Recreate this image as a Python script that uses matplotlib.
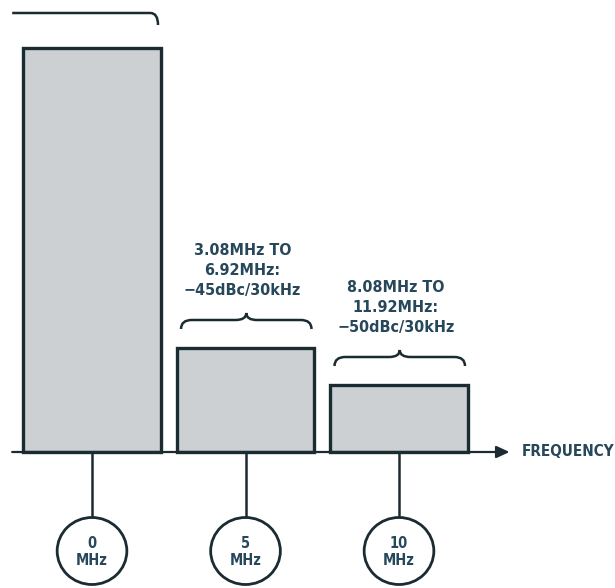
import matplotlib
matplotlib.use("Agg")
import matplotlib.pyplot as plt
from matplotlib.patches import Rectangle, Ellipse, PathPatch
from matplotlib.path import Path

# channel centres (MHz), relative level of each block, labels
centers = [0, 5, 10]
levels = [404, 104, 67]
bar_width = 4.47
tick_labels = ["0\nMHz", "5\nMHz", "10\nMHz"]
notes = [None,
         "3.08MHz TO\n6.92MHz:\n\u221245dBc/30kHz",
         "8.08MHz TO\n11.92MHz:\n\u221250dBc/30kHz"]

edge = "#1b2b32"
fill = "#cdd0d3"
txt = "#27475a"
fam = ["DejaVu Sans"]

fig = plt.figure(figsize=(6.15, 5.88), dpi=100)
ax = fig.add_axes([0, 0, 1, 1])
ax.set_xlim(-2.997, 17.036)
ax.set_ylim(-136, 452)
ax.axis("off")


def brace(x0, x1, y, drop, rise, r):
    xc = (x0 + x1) / 2
    verts = [(x0, y - drop), (x0, y), (x0 + r, y),
             (xc - r, y), (xc, y), (xc, y + rise),
             (xc, y), (xc + r, y),
             (x1 - r, y), (x1, y), (x1, y - drop)]
    codes = [Path.MOVETO, Path.CURVE3, Path.CURVE3,
             Path.LINETO, Path.CURVE3, Path.CURVE3,
             Path.CURVE3, Path.CURVE3,
             Path.LINETO, Path.CURVE3, Path.CURVE3]
    ax.add_patch(PathPatch(Path(verts, codes), fill=False, ec=edge, lw=1.8))


for c, h, lab, note in zip(centers, levels, tick_labels, notes):
    ax.add_patch(Rectangle((c - bar_width / 2, 0), bar_width, h,
                           fc=fill, ec=edge, lw=2.4, zorder=2))
    # stem + circle
    ax.plot([c, c], [0, -66], color=edge, lw=1.8, zorder=1)
    ax.add_patch(Ellipse((c, -99), 2.27, 67, fc="white", ec=edge, lw=2.0))
    ax.text(c, -100, lab, ha="center", va="center", fontsize=10.5,
            color=txt, family=fam, linespacing=1.15, fontweight="bold",
            fontstretch="condensed")
    if note is not None:
        top = h + 28
        brace(c - 2.1, c + 2.15, top, 9, 7, 0.35)
        ax.text(c - 0.1, top + 22, note, ha="center", va="bottom",
                fontsize=11.5, color=txt, family=fam, linespacing=1.4,
                fontweight="bold", fontstretch="condensed")

# top brace over the main channel (cut off by the frame)
top0 = levels[0] + 35
verts = [(-2.6, top0), (1.9, top0), (2.15, top0), (2.15, top0 - 12)]
codes = [Path.MOVETO, Path.LINETO, Path.CURVE3, Path.CURVE3]
ax.add_patch(PathPatch(Path(verts, codes), fill=False, ec=edge, lw=1.8))

# frequency axis
ax.annotate("", xy=(13.6, 0), xytext=(-2.6, 0),
            arrowprops=dict(arrowstyle="-|>,head_length=0.65,head_width=0.3",
                            color=edge, lw=1.6, mutation_scale=12,
                            shrinkA=0, shrinkB=0), zorder=3)
ax.text(14.0, 0, "FREQUENCY", ha="left", va="center", fontsize=11,
        color=txt, family=fam, fontweight="bold", fontstretch="condensed")

fig.savefig("out.png", dpi=100)
